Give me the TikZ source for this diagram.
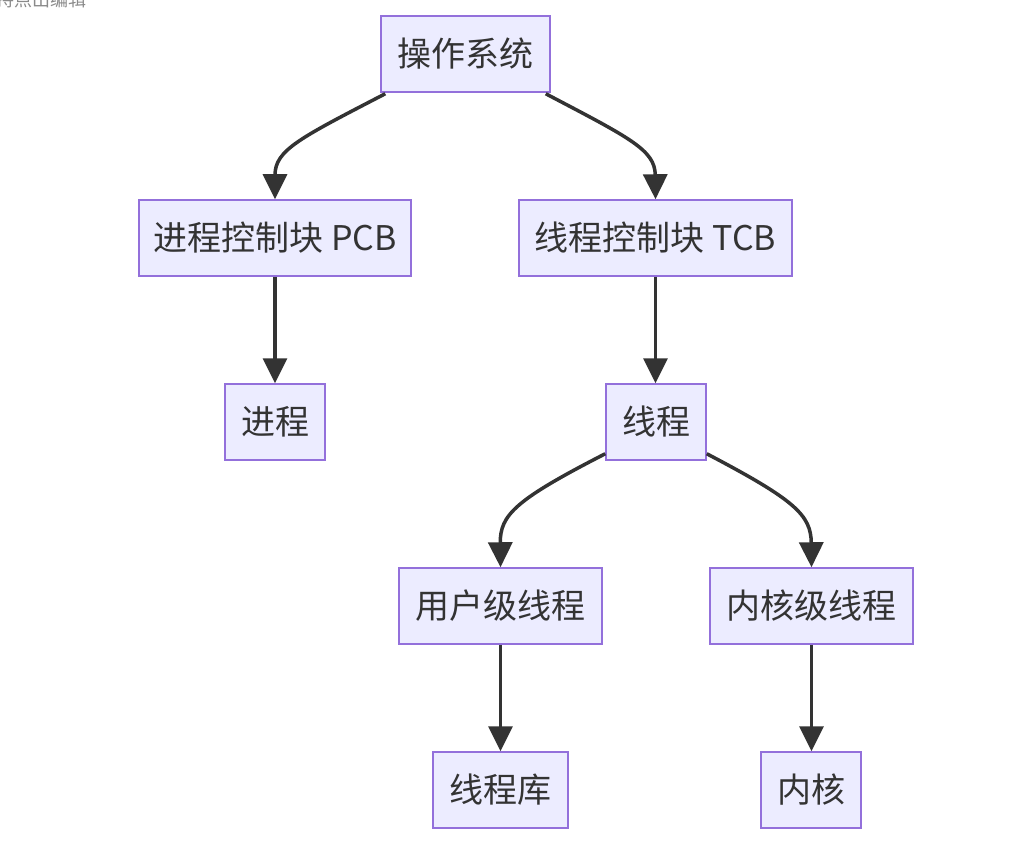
\documentclass[tikz,border=0pt]{standalone}
\usepackage{fontspec}
\setmainfont{Noto Sans CJK SC}
\usetikzlibrary{arrows.meta,calc}
\definecolor{boxfill}{HTML}{ECECFF}
\definecolor{boxborder}{HTML}{9370DB}
\definecolor{linec}{HTML}{333333}
\definecolor{textc}{HTML}{333333}
\definecolor{hintc}{HTML}{8A8A8A}
\begin{document}
\begin{tikzpicture}[x=1pt,y=-1pt,
  box/.style={draw=boxborder, fill=boxfill, line width=1.5pt, minimum height=76pt, inner sep=0pt, font=\fontsize{34}{40}\selectfont, text=textc},
  edge/.style={draw=linec, line width=3.5pt, -{Triangle[length=25pt,width=24pt]}},
  hint/.style={font=\fontsize{18}{20}\selectfont, text=hintc, inner sep=0pt, anchor=west}]
\useasboundingbox (0,0) rectangle (1024,850);
\clip (0,0) rectangle (1024,850);
\fill[white] (0,0) rectangle (1024,850);
\node[hint] (hint) at (-4,0) {持点出编辑};

\node[box, minimum width=169pt] (os) at (465.5,54) {操作系统};
\node[box, minimum width=272pt] (pcb) at (275,238) {进程控制块 PCB};
\node[box, minimum width=273pt] (tcb) at (655.5,238) {线程控制块 TCB};
\node[box, minimum width=100pt] (proc) at (275,422) {进程};
\node[box, minimum width=100pt] (thr) at (656,422) {线程};
\node[box, minimum width=203pt] (ult) at (500.5,606) {用户级线程};
\node[box, minimum width=203pt] (klt) at (811.5,606) {内核级线程};
\node[box, minimum width=135pt] (lib) at (500.5,790) {线程库};
\node[box, minimum width=100pt] (kern) at (811,790) {内核};

\coordinate (osL) at ($(os.south west)+(5,1)$);
\coordinate (osR) at ($(os.south east)+(-5,1)$);
\coordinate (thrL) at ($(thr.south west)+(0,-7)$);
\coordinate (thrR) at ($(thr.south east)+(0,-7)$);

\draw[edge] (osL) .. controls (300,138) and (275,150) .. (pcb.north);
\draw[edge] (osR) .. controls (630,138) and (655,150) .. (tcb.north);
\draw[edge] (pcb.south) -- (proc.north);
\draw[edge] (tcb.south) -- (tcb.south |- thr.north);
\draw[edge] (thrL) .. controls (515,500) and (500,515) .. (ult.north);
\draw[edge] (thrR) .. controls (795,500) and (811,515) .. (klt.north);
\draw[edge] (ult.south) -- (lib.north);
\draw[edge] (klt.south) -- (klt.south |- kern.north);
\end{tikzpicture}
\end{document}
